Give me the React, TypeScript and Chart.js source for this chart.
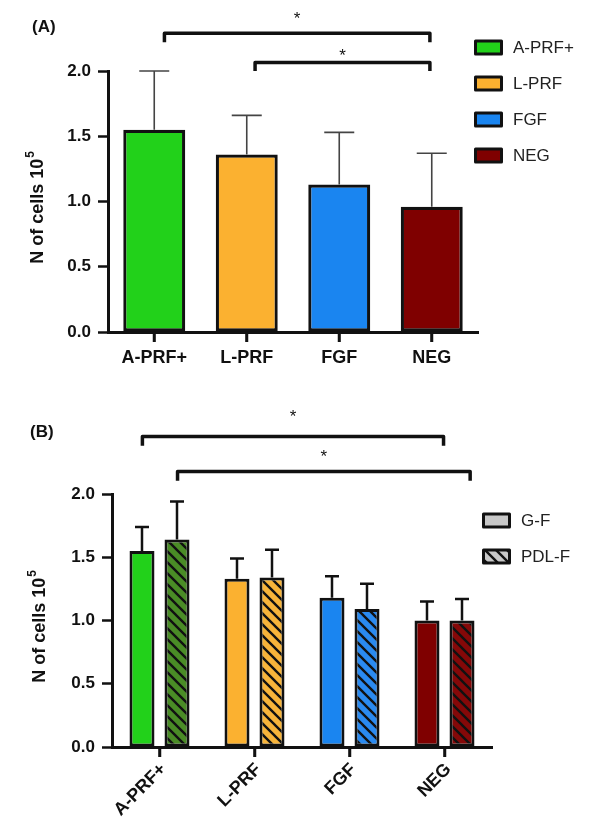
import React, { useEffect, useRef } from "react";
import { Chart, registerables } from "chart.js";
Chart.register(...registerables);

// ---------- data ----------
const categories = ["A-PRF+", "L-PRF", "FGF", "NEG"];
const colorsA = ["#22D11A", "#FBB130", "#1A85F0", "#7F0000"];
const meanA = [1.55, 1.36, 1.13, 0.96];
const sdA = [0.45, 0.3, 0.4, 0.41];

const seriesB = ["G-F", "PDL-F"];
const meanGF = [1.55, 1.33, 1.18, 1.0];
const sdGF = [0.19, 0.16, 0.17, 0.15];
const meanPDL = [1.64, 1.34, 1.09, 1.0];
const sdPDL = [0.3, 0.22, 0.2, 0.17];
const colorsPDL = ["#4A8C26", "#F7B43A", "#2A8AF0", "#850808"];

const yTicks = [0, 0.5, 1.0, 1.5, 2.0];

// significance brackets (x in category units, y in data units)
const bracketsA = [
  { from: 0.11, to: 2.98, y: 2.29, tip: 2.22, star: 2.43 },
  { from: 1.09, to: 2.98, y: 2.065, tip: 2.0, star: 2.145 },
];
const bracketsB = [
  { from: -0.18, to: 2.99, y: 2.454, tip: 2.381, star: 2.64 },
  { from: 0.19, to: 3.27, y: 2.177, tip: 2.104, star: 2.325 },
];

const FONT = "'Liberation Sans', Arial, Helvetica, sans-serif";
const INK = "#111";

function makeHatch(color: string): CanvasPattern | string {
  const s = 11;
  const c = document.createElement("canvas");
  c.width = s;
  c.height = s;
  const g = c.getContext("2d");
  if (!g) return color;
  g.fillStyle = color;
  g.fillRect(0, 0, s, s);
  g.strokeStyle = "#111";
  g.lineWidth = 2.4;
  g.beginPath();
  g.moveTo(-2, -2);
  g.lineTo(s + 2, s + 2);
  g.moveTo(-2, s - 2);
  g.lineTo(2, s + 2);
  g.moveTo(s - 2, -2);
  g.lineTo(s + 2, 2);
  g.stroke();
  const p = g.createPattern(c, "repeat");
  return p || color;
}

function drawStar(ctx: CanvasRenderingContext2D, x: number, cy: number) {
  ctx.font = `17px ${FONT}`;
  ctx.textAlign = "center";
  ctx.textBaseline = "alphabetic";
  const m = ctx.measureText("*");
  const base = cy - (m.actualBoundingBoxDescent - m.actualBoundingBoxAscent) / 2;
  ctx.fillStyle = INK;
  ctx.fillText("*", x, base);
}

function bracketPlugin(brackets: typeof bracketsA) {
  return {
    id: "brackets",
    afterDraw(chart: any) {
      const ctx = chart.ctx as CanvasRenderingContext2D;
      const xs = chart.scales.x;
      const ys = chart.scales.y;
      const x0 = xs.getPixelForValue(0);
      const cw = xs.getPixelForValue(1) - x0;
      ctx.save();
      ctx.strokeStyle = INK;
      ctx.lineWidth = 3.5;
      ctx.lineJoin = "round";
      ctx.lineCap = "butt";
      brackets.forEach((b) => {
        const xa = x0 + b.from * cw;
        const xb = x0 + b.to * cw;
        const yb = ys.getPixelForValue(b.y);
        const yt = ys.getPixelForValue(b.tip);
        ctx.beginPath();
        ctx.moveTo(xa, yt);
        ctx.lineTo(xa, yb);
        ctx.lineTo(xb, yb);
        ctx.lineTo(xb, yt);
        ctx.stroke();
        drawStar(ctx, (xa + xb) / 2, ys.getPixelForValue(b.star));
      });
      ctx.restore();
    },
  };
}

// category tick marks at the centre of each category
const centerTicksPlugin = {
  id: "centerTicks",
  afterDraw(chart: any) {
    const ctx = chart.ctx as CanvasRenderingContext2D;
    const xs = chart.scales.x;
    const bottom = chart.chartArea.bottom;
    ctx.save();
    ctx.strokeStyle = INK;
    ctx.lineWidth = 2.5;
    chart.data.labels.forEach((_: any, i: number) => {
      const x = Math.round(xs.getPixelForValue(i));
      ctx.beginPath();
      ctx.moveTo(x, bottom);
      ctx.lineTo(x, bottom + 10);
      ctx.stroke();
    });
    ctx.restore();
  },
};

function errorPlugin(color: string, width: number, halfCap: number) {
  return {
    id: "errorbars",
    afterDatasetsDraw(chart: any) {
      const ctx = chart.ctx as CanvasRenderingContext2D;
      const ys = chart.scales.y;
      ctx.save();
      ctx.strokeStyle = color;
      ctx.lineWidth = width;
      chart.data.datasets.forEach((ds: any, d: number) => {
        const meta = chart.getDatasetMeta(d);
        meta.data.forEach((el: any, i: number) => {
          const v = ds.data[i];
          const e = ds.errors[i];
          const yTop = el.y;
          const yErr = ys.getPixelForValue(v + e);
          ctx.beginPath();
          ctx.moveTo(el.x, yTop);
          ctx.lineTo(el.x, yErr);
          ctx.moveTo(el.x - halfCap, yErr);
          ctx.lineTo(el.x + halfCap, yErr);
          ctx.stroke();
        });
      });
      ctx.restore();
    },
  };
}

function decorPlugin(opts: {
  panel: string;
  panelX: number;
  panelY: number;
  titleX: number;
  legend: { labels: string[]; fills: (string | CanvasPattern)[]; x: number; y: number; step: number };
}) {
  return {
    id: "decor",
    afterDraw(chart: any) {
      const ctx = chart.ctx as CanvasRenderingContext2D;
      const ca = chart.chartArea;
      ctx.save();
      // panel letter
      ctx.fillStyle = INK;
      ctx.font = `bold 17px ${FONT}`;
      ctx.textAlign = "left";
      ctx.textBaseline = "middle";
      ctx.fillText(opts.panel, opts.panelX, opts.panelY);

      // y title with superscript
      const cy = (ca.top + ca.bottom) / 2 + 6;
      ctx.save();
      ctx.translate(opts.titleX, cy);
      ctx.rotate(-Math.PI / 2);
      ctx.font = `bold 18px ${FONT}`;
      const main = "N of cells 10";
      const w1 = ctx.measureText(main).width;
      ctx.font = `bold 12px ${FONT}`;
      const w2 = ctx.measureText("5").width;
      const start = -(w1 + w2 + 1) / 2;
      ctx.textAlign = "left";
      ctx.textBaseline = "middle";
      ctx.font = `bold 18px ${FONT}`;
      ctx.fillText(main, start, 0);
      ctx.font = `bold 12px ${FONT}`;
      ctx.fillText("5", start + w1 + 1, -7);
      ctx.restore();

      // legend
      const L = opts.legend;
      L.labels.forEach((lab, i) => {
        const bx = L.x;
        const by = L.y + i * L.step;
        const bw = 29;
        const bh = 16;
        ctx.fillStyle = L.fills[i] as any;
        ctx.fillRect(bx + 1.5, by + 1.5, bw - 3, bh - 3);
        ctx.strokeStyle = INK;
        ctx.lineWidth = 3;
        ctx.lineJoin = "round";
        ctx.strokeRect(bx + 1.5, by + 1.5, bw - 3, bh - 3);
        ctx.fillStyle = "#222";
        ctx.font = `17px ${FONT}`;
        ctx.textAlign = "left";
        ctx.textBaseline = "middle";
        ctx.fillText(lab, bx + bw + 10, by + bh / 2 + 1);
      });
      ctx.restore();
    },
  };
}

function axisOptions(yWidth: number, xHeight: number, rotate: boolean, xFont: number) {
  return {
    x: {
      type: "category" as const,
      offset: true,
      afterFit: (s: any) => {
        s.height = xHeight;
      },
      grid: {
        display: true,
        offset: false,
        drawOnChartArea: false,
        drawTicks: true,
        tickLength: 10,
        tickWidth: 2.5,
        tickColor: INK,
        color: INK,
      },
      border: { display: true, color: INK, width: 3 },
      ticks: {
        color: INK,
        font: { family: FONT, size: xFont, weight: "bold" as const },
        padding: rotate ? 2 : 5,
        labelOffset: rotate ? 4 : 0,
        autoSkip: false,
        maxRotation: rotate ? 45 : 0,
        minRotation: rotate ? 45 : 0,
      },
    },
    y: {
      min: 0,
      max: 2,
      afterFit: (s: any) => {
        s.width = yWidth;
      },
      afterBuildTicks: (s: any) => {
        s.ticks = yTicks.map((v) => ({ value: v }));
      },
      grid: {
        display: true,
        drawOnChartArea: false,
        drawTicks: true,
        tickLength: 10,
        tickWidth: 2.5,
        tickColor: INK,
        color: INK,
      },
      border: { display: true, color: INK, width: 3 },
      ticks: {
        color: INK,
        font: { family: FONT, size: 17, weight: "bold" as const },
        padding: 7,
        callback: (v: any) => Number(v).toFixed(1),
      },
    },
  };
}

export default function App() {
  const refA = useRef<HTMLCanvasElement | null>(null);
  const refB = useRef<HTMLCanvasElement | null>(null);

  useEffect(() => {
    if (!refA.current || !refB.current) return;
    const hatchB = colorsPDL.map((c) => makeHatch(c));
    const legendHatch = makeHatch("#C8C8C8");

    const chartA = new Chart(refA.current, {
      type: "bar",
      data: {
        labels: categories,
        datasets: [
          {
            label: "mean",
            data: meanA,
            errors: sdA,
            backgroundColor: colorsA,
            borderColor: INK,
            borderWidth: 3.2,
            borderSkipped: false,
            categoryPercentage: 1,
            barPercentage: 0.67,
          } as any,
        ],
      },
      options: {
        responsive: false,
        maintainAspectRatio: false,
        animation: false,
        layout: { padding: { left: 0, right: 112, top: 71, bottom: 0 } },
        plugins: { legend: { display: false }, tooltip: { enabled: false } },
        scales: axisOptions(108, 63, false, 18) as any,
      },
      plugins: [
        errorPlugin("#444", 1.6, 15),
        bracketPlugin(bracketsA),
        centerTicksPlugin,
        decorPlugin({
          panel: "(A)",
          panelX: 32,
          panelY: 27,
          titleX: 38,
          legend: { labels: categories, fills: colorsA, x: 474, y: 39.5, step: 36 },
        }),
      ],
    });

    const chartB = new Chart(refB.current, {
      type: "bar",
      data: {
        labels: categories,
        datasets: [
          {
            label: seriesB[0],
            data: meanGF,
            errors: sdGF,
            backgroundColor: colorsA,
            borderColor: INK,
            borderWidth: 3,
            borderSkipped: false,
            categoryPercentage: 0.737,
            barPercentage: 0.714,
          } as any,
          {
            label: seriesB[1],
            data: meanPDL,
            errors: sdPDL,
            backgroundColor: hatchB,
            borderColor: INK,
            borderWidth: 3,
            borderSkipped: false,
            categoryPercentage: 0.737,
            barPercentage: 0.714,
          } as any,
        ],
      },
      options: {
        responsive: false,
        maintainAspectRatio: false,
        animation: false,
        layout: { padding: { left: 0, right: 98, top: 99, bottom: 0 } },
        plugins: { legend: { display: false }, tooltip: { enabled: false } },
        scales: axisOptions(112, 83, true, 18) as any,
      },
      plugins: [
        errorPlugin(INK, 2.5, 7),
        bracketPlugin(bracketsB),
        centerTicksPlugin,
        decorPlugin({
          panel: "(B)",
          panelX: 30,
          panelY: 37,
          titleX: 40,
          legend: { labels: seriesB, fills: ["#C8C8C8", legendHatch], x: 482, y: 117.5, step: 36 },
        }),
      ],
    });

    return () => {
      chartA.destroy();
      chartB.destroy();
    };
  }, []);

  return (
    <div style={{ position: "absolute", left: 0, top: 0, width: 590, height: 830, background: "#fff" }}>
      <canvas ref={refA} width={590} height={395} style={{ position: "absolute", left: 0, top: 0, display: "block" }} />
      <canvas ref={refB} width={590} height={435} style={{ position: "absolute", left: 0, top: 395, display: "block" }} />
    </div>
  );
}
